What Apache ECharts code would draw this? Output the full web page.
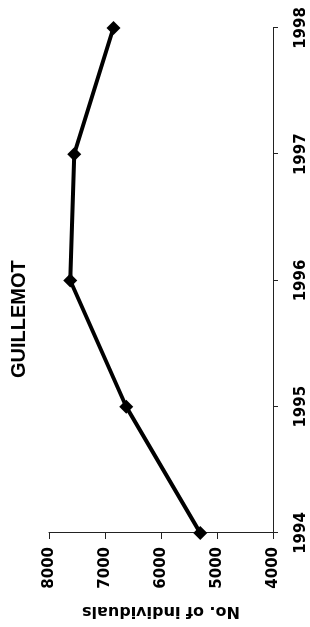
<!DOCTYPE html>
<html>
<head>
<meta charset="utf-8">
<script src="https://cdn.jsdelivr.net/npm/echarts@6/dist/echarts.min.js"></script>
<style>
  html, body { margin: 0; padding: 0; background: #fff; overflow: hidden; }
  #wrap { position: relative; width: 310px; height: 627px; }
  #chart {
    position: absolute; left: 0; top: 0;
    width: 627px; height: 310px;
    transform-origin: 0 0;
    transform: translate(0px, 627px) rotate(-90deg);
  }
</style>
</head>
<body>
<div id="wrap"><div id="chart"></div></div>
<script>
// Data
const years = ['1994', '1995', '1996', '1997', '1998'];
const individuals = [5300, 6620, 7620, 7550, 6850];
const valueTicks = [4000, 5000, 6000, 7000, 8000];
const chartTitle = 'GUILLEMOT';
const valueAxisName = 'No. of individuals';

const tickFont = { fontFamily: 'DejaVu Sans', fontWeight: 'bold', fontSize: 15, color: '#000' };

const chart = echarts.init(document.getElementById('chart'), null, { renderer: 'canvas', width: 627, height: 310 });
chart.setOption({
  backgroundColor: '#fff',
  animation: false,
  title: {
    text: chartTitle,
    left: 249,
    top: 9,
    padding: 0,
    textStyle: { fontFamily: 'Liberation Sans', fontWeight: 'bold', fontSize: 20, color: '#000' }
  },
  grid: { left: 93, right: 28, top: 49, bottom: 37, containLabel: false },
  xAxis: {
    type: 'category',
    data: years,
    boundaryGap: false,
    axisLine: { show: true, lineStyle: { color: '#222', width: 1 } },
    axisTick: { show: true, inside: false, length: 5, alignWithLabel: true, lineStyle: { color: '#222' } },
    axisLabel: Object.assign({ margin: 21 }, tickFont),
    splitLine: { show: false }
  },
  yAxis: {
    type: 'value',
    min: valueTicks[0],
    max: valueTicks[valueTicks.length - 1],
    interval: 1000,
    name: valueAxisName,
    nameLocation: 'middle',
    nameRotate: 90,
    nameGap: 70,
    nameTextStyle: { fontFamily: 'DejaVu Sans', fontWeight: 'bold', fontSize: 16, color: '#000' },
    axisLine: { show: true, lineStyle: { color: '#222', width: 1 } },
    axisTick: { show: true, inside: false, length: 6, lineStyle: { color: '#222' } },
    axisLabel: Object.assign({ margin: 14, formatter: function (v) { return String(v); } }, tickFont),
    splitLine: { show: false }
  },
  series: [{
    type: 'line',
    data: individuals,
    symbol: 'diamond',
    symbolSize: 14,
    lineStyle: { color: '#000', width: 4 },
    itemStyle: { color: '#000' }
  }]
});
</script>
</body>
</html>
